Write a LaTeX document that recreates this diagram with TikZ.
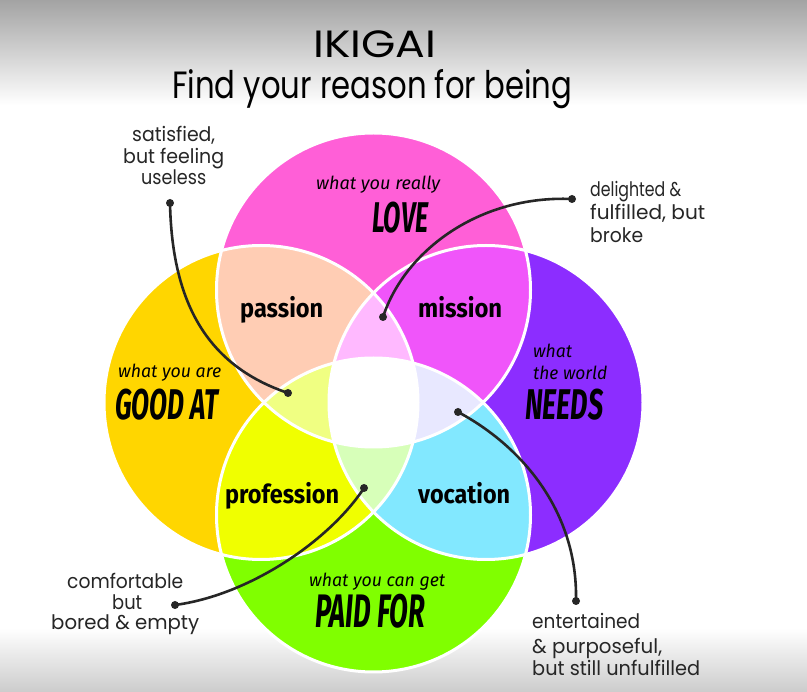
\documentclass[tikz,border=0pt]{standalone}
\usepackage{fontspec}
\usepackage{graphicx}
\newfontfamily\annfont{Poppins}
\newfontfamily\labfont{Fira Sans}
\newcommand{\fitw}[2]{\resizebox{#1pt}{\height}{#2}}
\definecolor{lovec}{RGB}{255,95,215}
\definecolor{goodc}{RGB}{255,214,0}
\definecolor{needc}{RGB}{140,45,255}
\definecolor{paidc}{RGB}{128,255,0}
\definecolor{passionc}{RGB}{255,205,180}
\definecolor{missionc}{RGB}{240,85,250}
\definecolor{professionc}{RGB}{240,255,0}
\definecolor{vocationc}{RGB}{130,232,255}
\definecolor{toplens}{RGB}{255,185,255}
\definecolor{leftlens}{RGB}{240,255,130}
\definecolor{rightlens}{RGB}{232,232,255}
\definecolor{botlens}{RGB}{215,255,185}
\tikzset{
 annsty/.style={anchor=base west, inner sep=0pt, font={\annfont\fontsize{20}{24}\selectfont}, text=black!85},
 regsty/.style={anchor=base west, inner sep=0pt, font={\labfont\bfseries\fontsize{26}{30}\selectfont}},
 smallsty/.style={anchor=base west, inner sep=0pt, font={\labfont\itshape\fontsize{18}{22}\selectfont}},
 capsty/.style={anchor=base west, inner sep=0pt, font={\labfont\bfseries\itshape\fontsize{43}{48}\selectfont}},
 titlesty/.style={anchor=base west, inner sep=0pt, font={\annfont\fontsize{38}{44}\selectfont}},
 ring/.style={draw=white, line width=3pt},
 conn/.style={line width=2.6pt, draw=black!85, line cap=round},
 dotn/.style={circle, fill=black!85, inner sep=0pt, minimum size=8pt},
}
\begin{document}
\begin{tikzpicture}[x=1pt,y=-1pt]
\useasboundingbox (0,0) rectangle (807,692);
\fill[white] (0,0) rectangle (807,692);
\shade[top color=black!36, bottom color=white] (0,0) rectangle (807,105);
\shade[top color=white, bottom color=black!20] (0,628) rectangle (807,692);
% circle centres
\coordinate (P) at (373.5,290);
\coordinate (Y) at (261,402.5);
\coordinate (U) at (486,402.5);
\coordinate (G) at (373.5,515);
\def\R{157pt}
% base circles
\fill[lovec] (P) circle[radius=\R];
\fill[goodc] (Y) circle[radius=\R];
\fill[needc] (U) circle[radius=\R];
\fill[paidc] (G) circle[radius=\R];
% pair intersections
\begin{scope}\clip (P) circle[radius=\R]; \fill[passionc] (Y) circle[radius=\R];\end{scope}
\begin{scope}\clip (P) circle[radius=\R]; \fill[missionc] (U) circle[radius=\R];\end{scope}
\begin{scope}\clip (Y) circle[radius=\R]; \fill[professionc] (G) circle[radius=\R];\end{scope}
\begin{scope}\clip (G) circle[radius=\R]; \fill[vocationc] (U) circle[radius=\R];\end{scope}
% triple intersections
\begin{scope}\clip (P) circle[radius=\R]; \clip (Y) circle[radius=\R]; \fill[toplens] (U) circle[radius=\R];\end{scope}
\begin{scope}\clip (P) circle[radius=\R]; \clip (Y) circle[radius=\R]; \fill[leftlens] (G) circle[radius=\R];\end{scope}
\begin{scope}\clip (P) circle[radius=\R]; \clip (U) circle[radius=\R]; \fill[rightlens] (G) circle[radius=\R];\end{scope}
\begin{scope}\clip (Y) circle[radius=\R]; \clip (U) circle[radius=\R]; \fill[botlens] (G) circle[radius=\R];\end{scope}
% centre
\begin{scope}\clip (P) circle[radius=\R]; \clip (Y) circle[radius=\R]; \clip (U) circle[radius=\R]; \fill[white] (G) circle[radius=\R];\end{scope}
% outlines
\draw[ring] (P) circle[radius=\R];
\draw[ring] (Y) circle[radius=\R];
\draw[ring] (U) circle[radius=\R];
\draw[ring] (G) circle[radius=\R];
% title
\node[titlesty] (t1) at (313,58) {\fitw{123}{IKIGAI}};
\node[titlesty] (t2) at (172,99) {\fitw{400}{Find your reason for being}};
% circle labels
\node[smallsty] (l1) at (316,190) {\fitw{124}{what you really}};
\node[capsty] (l2) at (372,233) {\fitw{56}{LOVE}};
\node[smallsty] (g1) at (118,378) {\fitw{103}{what you are}};
\node[capsty] (g2) at (115,420) {\fitw{103}{GOOD AT}};
\node[smallsty] (n1) at (533,358) {\fitw{39}{what}};
\node[smallsty] (n2) at (533,380) {\fitw{74}{the world}};
\node[capsty] (n3) at (525,420) {\fitw{78}{NEEDS}};
\node[smallsty] (p1) at (309,587) {\fitw{136}{what you can get}};
\node[capsty,font={\labfont\bfseries\itshape\fontsize{47}{52}\selectfont}] (p2) at (315,628) {\fitw{110}{PAID FOR}};
% region labels
\node[regsty] (r1) at (240,318) {\fitw{83}{passion}};
\node[regsty] (r2) at (418,318) {\fitw{84}{mission}};
\node[regsty] (r3) at (225,504) {\fitw{114}{profession}};
\node[regsty] (r4) at (418,504) {\fitw{92}{vocation}};
% annotations
\node[annsty] (a1) at (132,142) {\fitw{83}{satisfied,}};
\node[annsty] (a2) at (123,164) {\fitw{101}{but feeling}};
\node[annsty] (a3) at (141,185) {\fitw{65}{useless}};
\node[annsty] (b1) at (590,197) {\fitw{91}{delighted \&}};
\node[annsty] (b2) at (590,220) {\fitw{115}{fulfilled, but}};
\node[annsty] (b3) at (590,243) {\fitw{53}{broke}};
\node[annsty] (c1) at (67,589) {\fitw{116}{comfortable}};
\node[annsty] (c2) at (112,610) {\fitw{30}{but}};
\node[annsty] (c3) at (51,630) {\fitw{148}{bored \& empty}};
\node[annsty] (e1) at (532,629) {\fitw{108}{entertained}};
\node[annsty] (e2) at (532,653) {\fitw{130}{\& purposeful,}};
\node[annsty] (e3) at (532,675) {\fitw{168}{but still unfulfilled}};
% connectors
\node[dotn] (d1a) at (170,203) {};
\node[dotn] (d1b) at (288,393) {};
\node[dotn] (d2a) at (572,199) {};
\node[dotn] (d2b) at (383,317) {};
\node[dotn] (d3a) at (175,605) {};
\node[dotn] (d3b) at (364,488) {};
\node[dotn] (d4a) at (458,412) {};
\node[dotn] (d4b) at (576,601) {};
\draw[conn] (d1a.center) .. controls (172,300) and (205,365) .. (d1b.center);
\draw[conn] (d2a.center) .. controls (480,195) and (405,250) .. (d2b.center);
\draw[conn] (d3a.center) .. controls (250,595) and (330,540) .. (d3b.center);
\draw[conn] (d4a.center) .. controls (520,445) and (578,510) .. (d4b.center);
\end{tikzpicture}
\end{document}
